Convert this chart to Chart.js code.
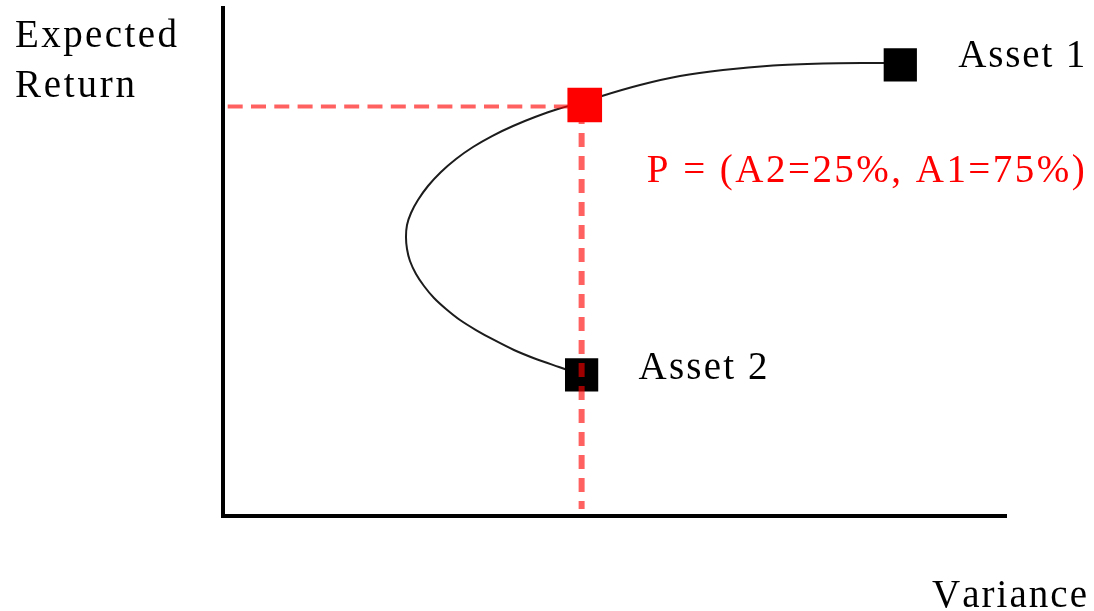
<!DOCTYPE html>
<html>
<head>
<meta charset="utf-8">
<script src="https://cdn.jsdelivr.net/npm/chart.js@4/dist/chart.umd.min.js"></script>
<style>
  html, body { margin: 0; padding: 0; background: #ffffff; }
  #wrap { width: 1094px; height: 611px; position: relative; }
</style>
</head>
<body>
<div id="wrap"><canvas id="c" width="1094" height="611"></canvas></div>
<script>
// ---- data (axis units 0..100, no ticks shown) ----
const curveX = [45.85, 42.91, 39.97, 37.16, 34.61, 32.31, 30.27, 28.48, 26.95, 25.67, 24.65, 23.88, 23.50, 23.37,
                23.50, 24.01, 24.90, 26.18, 27.84, 29.76, 31.93, 34.36, 37.04, 39.85, 42.78, 46.23,
                48.40, 53.26, 58.37, 63.86, 70.24, 76.63, 81.99, 86.46];
const curveY = [27.76, 29.33, 30.91, 32.68, 34.65, 36.61, 38.58, 40.75, 42.91, 45.28, 47.64, 50.20, 52.56, 54.92,
                57.28, 59.65, 62.20, 64.96, 67.72, 70.28, 72.64, 74.80, 76.77, 78.54, 80.12, 81.50,
                82.68, 84.84, 86.61, 87.80, 88.68, 89.07, 89.17, 89.17];

const pointNames = ['Asset 1', 'P', 'Asset 2'];
const pointX = [86.5, 46.2, 45.8];
const pointY = [88.8, 80.9, 27.8];
const pointLabels = ['Asset 1', 'P = (A2=25%, A1=75%)', 'Asset 2'];

const hGuideX = [0.6, 46.2];
const hGuideY = [80.6, 80.6];
const vGuideX = [45.8, 45.8];
const vGuideY = [80.9, 1.4];

const yTitle = ['Expected', 'Return'];
const xTitle = 'Variance';

const AXIS_MIN = 0, AXIS_MAX = 100;

// ---- build ----
const toPts = (xs, ys) => xs.map((x, i) => ({ x: x, y: ys[i] }));
const FONT = '39px "Liberation Serif", "DejaVu Serif", serif';

function drawSpaced(ctx, text, x, y, targetWidth) {
  const chars = Array.from(text);
  let total = 0;
  const widths = chars.map(ch => { const w = ctx.measureText(ch).width; total += w; return w; });
  const sp = chars.length > 1 ? (targetWidth - total) / (chars.length - 1) : 0;
  let cx = x;
  chars.forEach((ch, i) => { ctx.fillText(ch, cx, y); cx += widths[i] + sp; });
}

const labelPlugin = {
  id: 'labels',
  afterDraw(chart) {
    const ctx = chart.ctx;
    const xs = chart.scales.x, ys = chart.scales.y;
    const area = chart.chartArea;
    ctx.save();
    ctx.font = FONT;
    ctx.textBaseline = 'alphabetic';
    ctx.textAlign = 'left';
    const offs = [{dx: 58, dy: 2, w: 127, c: '#000000'},
                  {dx: 62, dy: 77, w: 438, c: '#ff0000'},
                  {dx: 57, dy: 4, w: 129, c: '#000000'}];
    pointLabels.forEach((t, i) => {
      const px = xs.getPixelForValue(pointX[i]);
      const py = ys.getPixelForValue(pointY[i]);
      ctx.fillStyle = offs[i].c;
      drawSpaced(ctx, t, px + offs[i].dx, py + offs[i].dy, offs[i].w);
    });
    ctx.fillStyle = '#000000';
    drawSpaced(ctx, yTitle[0], area.left - 208, area.top + 39, 162);
    drawSpaced(ctx, yTitle[1], area.left - 208, area.top + 89, 120);
    drawSpaced(ctx, xTitle, area.right - 74, area.bottom + 91, 155);
    ctx.restore();
  }
};

new Chart(document.getElementById('c'), {
  type: 'scatter',
  data: {
    datasets: [
      {
        label: 'hGuide',
        data: toPts(hGuideX, hGuideY),
        showLine: true,
        borderColor: 'rgba(255,0,0,0.62)',
        borderWidth: 4,
        borderDash: [15, 8.3],
        pointRadius: 0,
        order: 0
      },
      {
        label: 'vGuide',
        data: toPts(vGuideX, vGuideY),
        showLine: true,
        borderColor: 'rgba(255,0,0,0.62)',
        borderWidth: 6,
        borderDash: [14, 9],
        borderDashOffset: 18,
        pointRadius: 0,
        order: 0
      },
      {
        label: 'points',
        data: toPts(pointX, pointY),
        showLine: false,
        pointStyle: 'rect',
        pointRadius: [23.5, 24.5, 23.5],
        backgroundColor: ['#000000', '#ff0000', '#000000'],
        borderWidth: 0,
        pointBorderWidth: 0,
        order: 1
      },
      {
        label: 'frontier',
        data: toPts(curveX, curveY),
        showLine: true,
        borderColor: '#1c1c1c',
        borderWidth: 2,
        tension: 0.3,
        pointRadius: 0,
        order: 2
      }
    ]
  },
  options: {
    responsive: false,
    animation: false,
    events: [],
    layout: { autoPadding: false, padding: { left: 223, right: 88, top: 8, bottom: 95 } },
    plugins: { legend: { display: false }, tooltip: { enabled: false }, title: { display: false } },
    scales: {
      x: {
        type: 'linear', min: AXIS_MIN, max: AXIS_MAX,
        ticks: { display: false },
        grid: { display: false, drawTicks: false },
        border: { display: true, color: '#000000', width: 4 },
        afterFit(s) { s.height = 0; }
      },
      y: {
        type: 'linear', min: AXIS_MIN, max: AXIS_MAX,
        ticks: { display: false },
        grid: { display: false, drawTicks: false },
        border: { display: true, color: '#000000', width: 4 },
        afterFit(s) { s.width = 0; }
      }
    }
  },
  plugins: [labelPlugin]
});
</script>
</body>
</html>
